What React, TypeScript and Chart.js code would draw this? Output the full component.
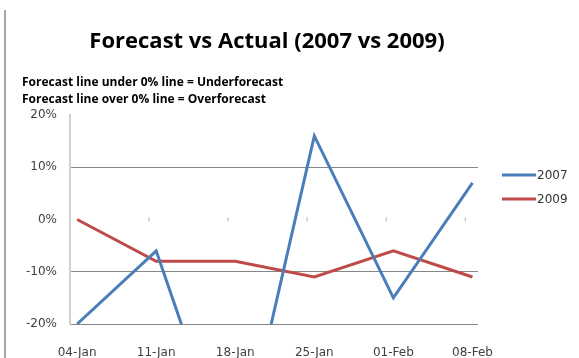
import React, { useEffect, useRef } from "react";
import { Chart, registerables } from "chart.js";

Chart.register(...registerables);

const categories = ["04-Jan", "11-Jan", "18-Jan", "25-Jan", "01-Feb", "08-Feb"];
const series2007 = [-20, -6, -50, 16, -15, 7];
const series2009 = [0, -8, -8, -11, -6, -11];
const yTicks = [-20, -10, 0, 10, 20];
const titleText = "Forecast vs Actual (2007 vs 2009)";
const noteLines = [
  "Forecast line under 0% line = Underforecast",
  "Forecast line over 0% line = Overforecast",
];

const BLUE = "#4a7ebb";
const RED = "#be4b48";
const X_MIN = -0.09;
const X_MAX = 5.07;

const textPlugin = {
  id: "texts",
  afterDraw(chart: any) {
    const ctx = chart.ctx;
    ctx.save();
    ctx.fillStyle = "#000";
    ctx.textBaseline = "middle";
    ctx.textAlign = "center";
    ctx.font = "bold 22px 'Open Sans'";
    ctx.fillText(titleText, 267, 42);
    ctx.textAlign = "left";
    ctx.font = "bold 12px 'Open Sans'";
    ctx.fillText(noteLines[0], 22, 83);
    ctx.fillText(noteLines[1], 22, 100);

    // legend
    chart.data.datasets.forEach((ds: any, i: number) => {
      const y = 175 + i * 24;
      ctx.strokeStyle = ds.borderColor;
      ctx.lineWidth = 3;
      ctx.beginPath();
      ctx.moveTo(502, y);
      ctx.lineTo(536, y);
      ctx.stroke();
      ctx.fillStyle = "#333";
      ctx.font = "12px 'DejaVu Sans'";
      ctx.textAlign = "left";
      ctx.fillText(ds.label, 537, y + 1);
    });

    // small tick marks at 0% axis
    const xs = chart.scales.x;
    const ys = chart.scales.y;
    const y0 = ys.getPixelForValue(0);
    ctx.strokeStyle = "#c8c8c8";
    ctx.lineWidth = 1.5;
    for (let i = 1; i < categories.length; i++) {
      const px = xs.getPixelForValue(X_MIN + i);
      ctx.beginPath();
      ctx.moveTo(px, y0 - 2);
      ctx.lineTo(px, y0 + 2);
      ctx.stroke();
    }
    ctx.restore();
  },
};

export default function App() {
  const ref = useRef<HTMLCanvasElement>(null);
  useEffect(() => {
    const chart = new Chart(ref.current!, {
      type: "line",
      data: {
        datasets: [
          {
            label: "2007",
            data: series2007.map((v, i) => ({ x: i, y: v })),
            borderColor: BLUE,
            backgroundColor: BLUE,
            borderWidth: 3,
            pointRadius: 0,
            tension: 0,
          },
          {
            label: "2009",
            data: series2009.map((v, i) => ({ x: i, y: v })),
            borderColor: RED,
            backgroundColor: RED,
            borderWidth: 3,
            pointRadius: 0,
            tension: 0,
          },
        ],
      },
      options: {
        animation: false,
        responsive: true,
        maintainAspectRatio: false,
        layout: { padding: { top: 115, right: 101, left: 0, bottom: 0 } },
        plugins: {
          legend: { display: false },
          title: { display: false },
          tooltip: { enabled: false },
        },
        scales: {
          x: {
            type: "linear",
            min: X_MIN,
            max: X_MAX,
            grid: { display: false },
            border: { display: false },
            ticks: {
              stepSize: 1,
              includeBounds: false,
              autoSkip: false,
              maxRotation: 0,
              padding: 14,
              color: "#404040",
              font: { family: "'DejaVu Sans'", size: 12 },
              callback: (v: any) =>
                Number.isInteger(v) ? categories[v] ?? "" : "",
            },
            afterFit: (s: any) => {
              s.height = 34;
            },
          },
          y: {
            min: yTicks[0],
            max: yTicks[yTicks.length - 1],
            afterBuildTicks: (s: any) => {
              s.ticks = yTicks.map((v) => ({ value: v }));
            },
            grid: {
              drawTicks: false,
              color: (c: any) =>
                c.tick && (c.tick.value === 0 || c.tick.value === 20)
                  ? "rgba(0,0,0,0)"
                  : "#868686",
              lineWidth: 1,
            },
            border: { color: "#d0d0d0", width: 2 },
            ticks: {
              padding: 13,
              color: "#404040",
              font: { family: "'DejaVu Sans'", size: 12 },
              callback: (v: any) => v + "%",
            },
            afterFit: (s: any) => {
              s.width = 70;
            },
          },
        },
      },
      plugins: [textPlugin],
    });
    return () => chart.destroy();
  }, []);
  return (
    <div
      style={{
        position: "fixed",
        left: 0,
        top: 0,
        width: 579,
        height: 358,
        background: "#fff",
      }}
    >
      <div
        style={{
          position: "absolute",
          left: 4,
          top: 10,
          width: 2,
          height: 348,
          background: "#a6a6a6",
        }}
      />
      <canvas ref={ref} />
    </div>
  );
}
